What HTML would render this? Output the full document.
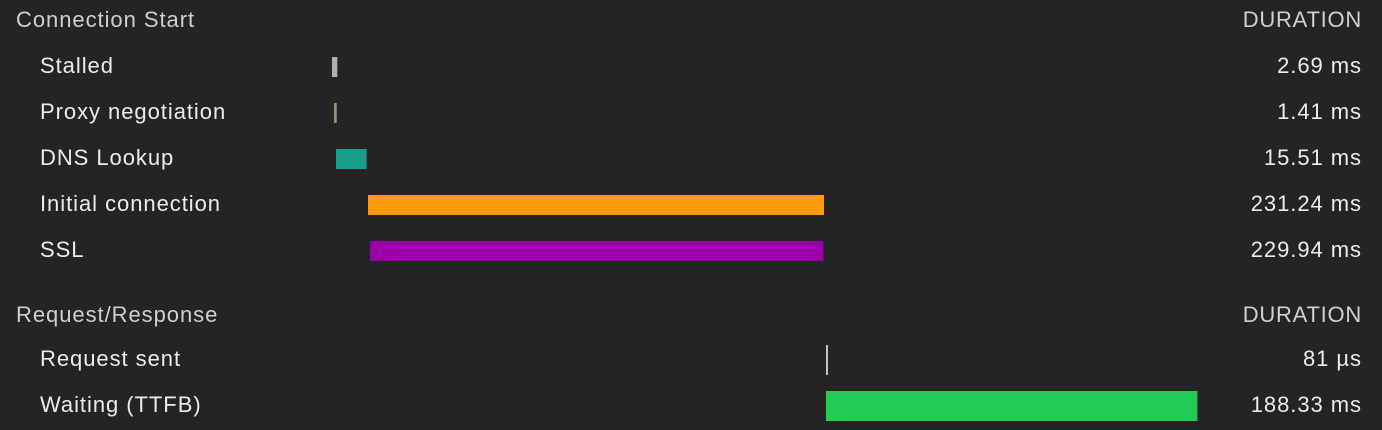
<!DOCTYPE html>
<html><head><meta charset="utf-8"><style>
body{margin:0;background:#242424;width:1382px;height:430px;overflow:hidden;font-family:"Liberation Sans",Arial,sans-serif;}
svg{display:block}
text{letter-spacing:0.95px}
</style></head><body>
<svg id="c" width="1382" height="430">
<text x="16" y="27" font-size="22" fill="#d0d0d0">Connection Start</text>
<text x="1362" y="27" font-size="22" fill="#d0d0d0" text-anchor="end" style="letter-spacing:0.75px">DURATION</text>
<text x="16" y="322" font-size="22" fill="#d0d0d0">Request/Response</text>
<text x="1362" y="322" font-size="22" fill="#d0d0d0" text-anchor="end" style="letter-spacing:0.75px">DURATION</text>
</svg>
<script>
const labels=["Stalled","Proxy negotiation","DNS Lookup","Initial connection","SSL","Request sent","Waiting (TTFB)"];
const starts=[0,1.0,2.03,18.26,19.27,250.5,250.5];
const durations=[2.69,1.41,15.51,231.24,229.94,0.081,188.33];
const durationLabels=["2.69 ms","1.41 ms","15.51 ms","231.24 ms","229.94 ms","81 µs","188.33 ms"];
const colors=["#b0b0b0","#a08a80","#1a9c8a","#ff9b0a","#9c00ad","#c0c4ca","#21cc56"];
const rowY=[57,103,149,195,241,345,391];
const rowH=[20,20,20,20,20,30,30];
const X0=332,PX=1.972;
function xs(t){return X0+t*PX;}
const svg=document.getElementById('c');
const NS="http://www.w3.org/2000/svg";
labels.forEach((l,i)=>{
  const cy=rowY[i]+rowH[i]/2;
  const t=document.createElementNS(NS,'text');
  t.setAttribute('x',40);t.setAttribute('y',cy+6);t.setAttribute('font-size','22');t.setAttribute('fill','#ececec');
  t.textContent=l;
  
  
  svg.appendChild(t);
  const r=document.createElementNS(NS,'rect');
  const w=Math.max(2,durations[i]*PX);
  r.setAttribute('x',xs(starts[i]));r.setAttribute('y',rowY[i]);r.setAttribute('width',w);r.setAttribute('height',rowH[i]);r.setAttribute('fill',colors[i]);
  
  
  svg.appendChild(r);
  const d=document.createElementNS(NS,'text');
  d.setAttribute('x',1362);d.setAttribute('y',cy+6);d.setAttribute('font-size','22');d.setAttribute('fill','#ececec');d.setAttribute('text-anchor','end');
  d.textContent=durationLabels[i];
  
  
  svg.appendChild(d);
});
</script>
</body></html>
